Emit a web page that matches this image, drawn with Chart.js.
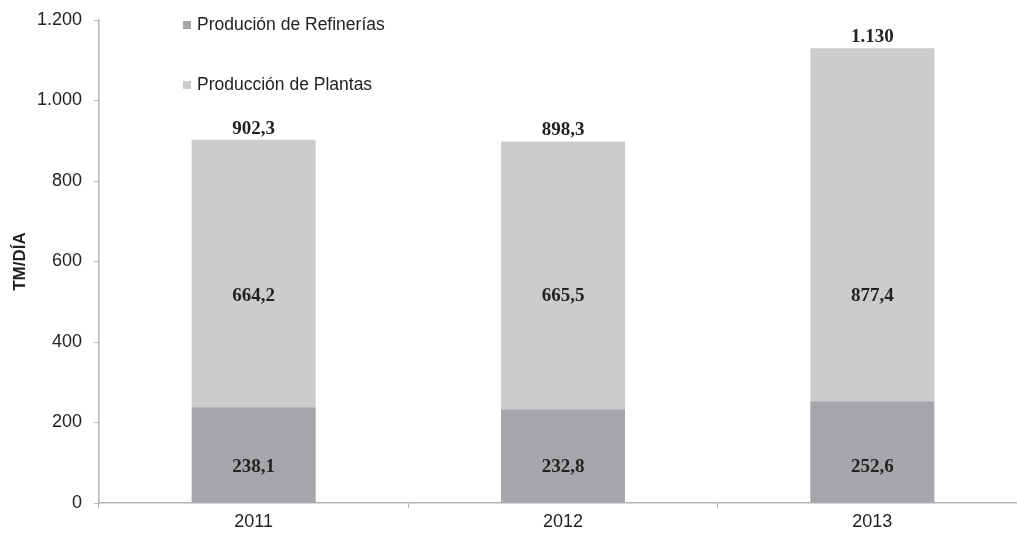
<!DOCTYPE html>
<html>
<head>
<meta charset="utf-8">
<script src="https://cdn.jsdelivr.net/npm/chart.js@4/dist/chart.umd.min.js"></script>
<style>
  html, body { margin: 0; padding: 0; background: #fff; overflow: hidden; }
  #wrap { width: 1027px; height: 533px; position: relative; }
</style>
</head>
<body>
<div id="wrap"><canvas id="chart"></canvas></div>
<script>
// data
const years = ['2011', '2012', '2013'];
const refinerias = [238.1, 232.8, 252.6];
const plantas = [664.2, 665.5, 877.4];
const seriesNames = ['Produción de Refinerías', 'Producción de Plantas'];
const yTicks = [0, 200, 400, 600, 800, 1000, 1200];

const darkGrey = '#a5a6a9';
const lightGrey = '#cbcccd';
const axisGrey = '#b4b4b4';
const textColor = '#222';

// 1130 -> "1.130", 902.3 -> "902,3"
function fmt(v) {
  const r = Math.round(v * 10) / 10;
  let [ip, dp] = r.toFixed(1).split('.');
  ip = ip.replace(/\B(?=(\d{3})+(?!\d))/g, '.');
  return dp === '0' ? ip : ip + ',' + dp;
}

// draws values on the bars and the legend in the plot
const labelsPlugin = {
  id: 'barLabels',
  afterDatasetsDraw(chart, args, opts) {
    const ctx = chart.ctx;
    const y = chart.scales.y;
    ctx.save();
    ctx.font = 'bold 19px "Liberation Serif", serif';
    ctx.fillStyle = textColor;
    ctx.textAlign = 'center';
    ctx.textBaseline = 'middle';
    const bottomMeta = chart.getDatasetMeta(0);
    const topMeta = chart.getDatasetMeta(1);
    years.forEach((yr, i) => {
      const x = bottomMeta.data[i].x;
      ctx.fillText(fmt(refinerias[i]), x, y.getPixelForValue(opts.lowAnchor));
      ctx.fillText(fmt(plantas[i]), x, y.getPixelForValue(opts.highAnchor));
      ctx.fillText(fmt(refinerias[i] + plantas[i]), x, topMeta.data[i].y - 11);
    });

    // legend
    ctx.font = '17.5px "Liberation Sans", Arial, sans-serif';
    ctx.textAlign = 'left';
    [darkGrey, lightGrey].forEach((c, k) => {
      const top = 21 + k * 60;
      ctx.fillStyle = c;
      ctx.fillRect(183, top, 8, 8);
      ctx.fillStyle = textColor;
      ctx.fillText(seriesNames[k], 197, top + 4);
    });
    ctx.restore();
  }
};

new Chart(document.getElementById('chart'), {
  type: 'bar',
  data: {
    labels: years,
    datasets: [
      { label: seriesNames[0], data: refinerias, backgroundColor: darkGrey },
      { label: seriesNames[1], data: plantas, backgroundColor: lightGrey }
    ]
  },
  options: {
    responsive: true,
    maintainAspectRatio: false,
    animation: false,
    layout: { padding: { top: 20, right: 0, left: 0, bottom: 0 } },
    datasets: { bar: { categoryPercentage: 1, barPercentage: 0.401 } },
    plugins: {
      legend: { display: false },
      tooltip: { enabled: false },
      barLabels: { lowAnchor: 89, highAnchor: 514 }
    },
    scales: {
      x: {
        stacked: true,
        grid: { drawOnChartArea: false, color: axisGrey, tickLength: 5, offset: true },
        border: { color: axisGrey, width: 1.5 },
        ticks: { color: textColor, font: { family: '"Liberation Sans", Arial', size: 18 }, padding: 3 },
        afterFit(s) { s.height = 30; s.paddingLeft = 0; s.paddingRight = 0; }
      },
      y: {
        stacked: true,
        min: 0,
        max: 1200,
        afterBuildTicks(s) { s.ticks = yTicks.map(v => ({ value: v })); },
        grid: { drawOnChartArea: false, color: axisGrey, tickLength: 5 },
        border: { color: axisGrey, width: 1.5 },
        ticks: {
          color: textColor,
          font: { family: '"Liberation Sans", Arial', size: 18 },
          padding: 12,
          callback: v => fmt(v)
        },
        title: {
          display: true,
          text: 'TM/DÍA',
          color: textColor,
          font: { family: '"Liberation Sans", Arial', size: 17, weight: 'bold' },
          padding: { top: 10, bottom: 0 }
        },
        afterFit(s) { s.width = 99; s.paddingTop = 0; s.paddingBottom = 0; }
      }
    }
  },
  plugins: [labelsPlugin]
});
</script>
</body>
</html>
